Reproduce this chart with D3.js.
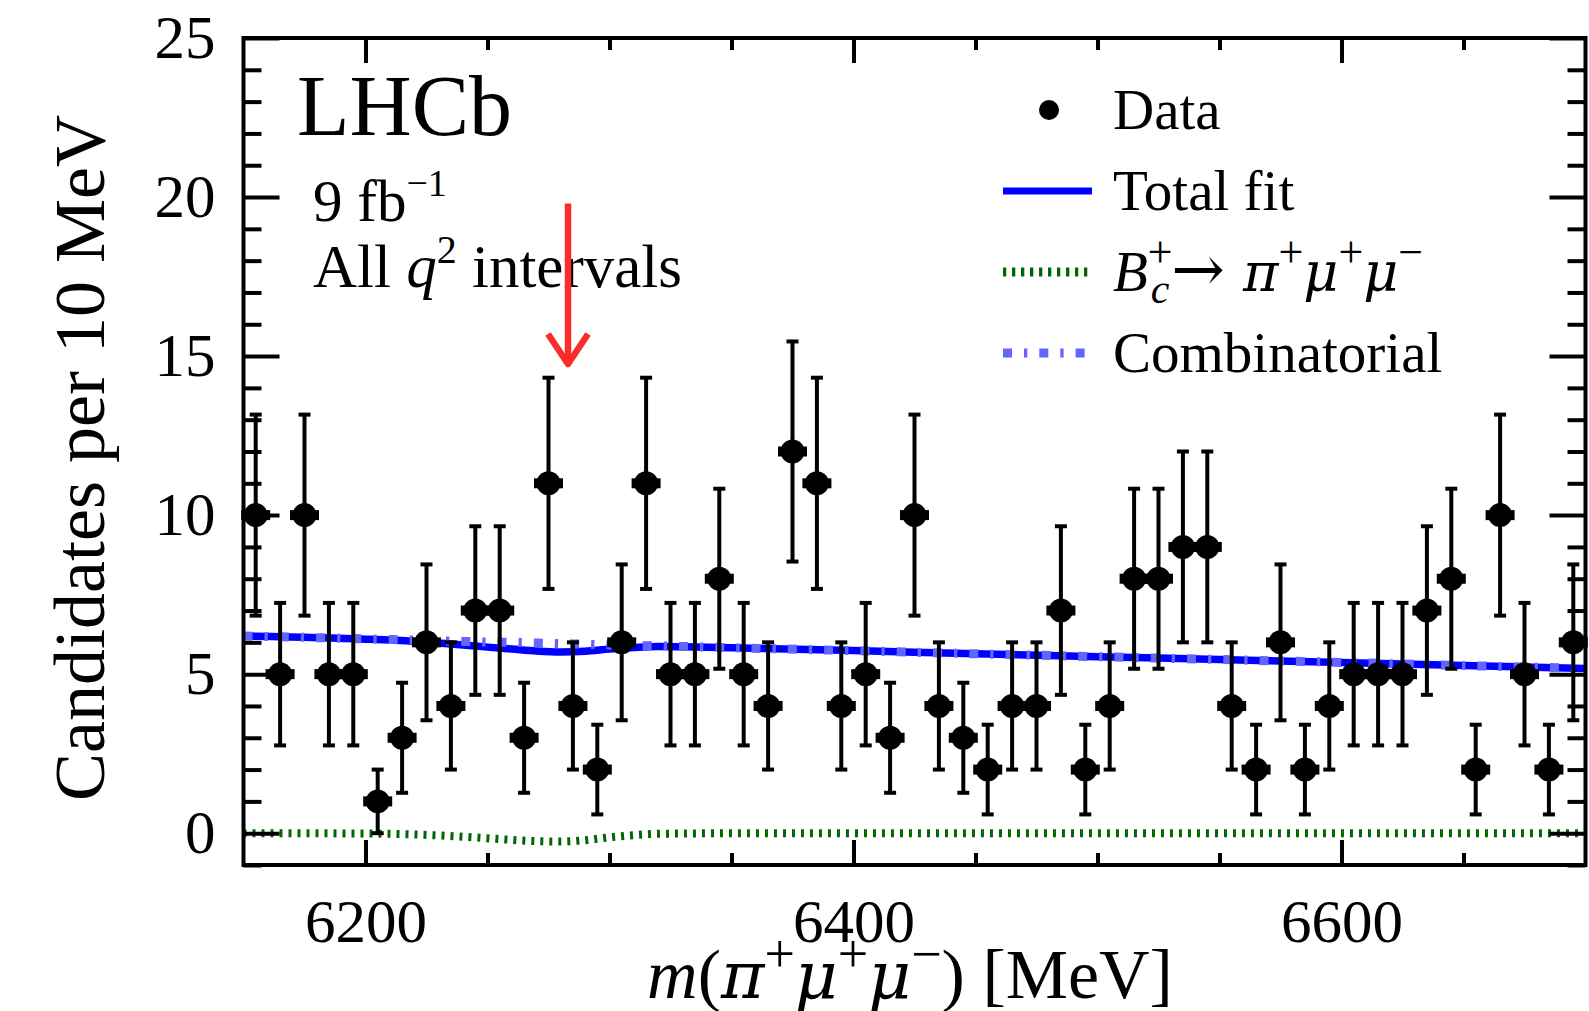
<!DOCTYPE html>
<html><head><meta charset="utf-8">
<script src="https://cdn.jsdelivr.net/npm/d3@7"></script>
<style>
html,body{margin:0;padding:0;background:#fff;}
svg{display:block;font-family:"Liberation Serif","Times New Roman",serif;}
</style></head>
<body><svg id="chart" width="1589" height="1011"></svg>
<script>
// ---------------- data ----------------
const massBins = [6155,6165,6175,6185,6195,6205,6215,6225,6235,6245,
                  6255,6265,6275,6285,6295,6305,6315,6325,6335,6345,
                  6355,6365,6375,6385,6395,6405,6415,6425,6435,6445,
                  6455,6465,6475,6485,6495,6505,6515,6525,6535,6545,
                  6555,6565,6575,6585,6595,6605,6615,6625,6635,6645,
                  6655,6665,6675,6685,6695];
const counts = [10,5,10,5,5,1,3,6,4,7,
                7,3,11,4,2,6,11,5,5,8,
                5,4,12,11,4,5,3,10,4,3,
                2,4,4,7,2,4,8,8,9,9,
                4,2,6,2,4,5,5,5,7,8,
                2,10,5,2,6];
const errors = [3.16,2.24,3.16,2.24,2.24,1.00,1.73,2.45,2.00,2.65,
                2.65,1.73,3.32,2.00,1.41,2.45,3.32,2.24,2.24,2.83,
                2.24,2.00,3.46,3.32,2.00,2.24,1.73,3.16,2.00,1.73,
                1.41,2.00,2.00,2.65,1.41,2.00,2.83,2.83,3.00,3.00,
                2.00,1.41,2.45,1.41,2.00,2.24,2.24,2.24,2.65,2.83,
                1.41,3.16,2.24,1.41,2.45];
const fitMass   = [6150,6200,6220,6230,6240,6250,6260,6270,6280,6290,6300,6310,6320,6330,6350,6400,6450,6500,6550,6600,6650,6700];
const combFit   = [6.20,6.11,6.07,6.05,6.03,6.01,6.00,5.98,5.96,5.94,5.92,5.90,5.89,5.87,5.83,5.74,5.64,5.55,5.46,5.37,5.27,5.18];
const signalFit = [0.00,-0.01,-0.04,-0.07,-0.11,-0.16,-0.21,-0.25,-0.26,-0.22,-0.13,-0.06,-0.02,-0.01,0.00,0.00,0.00,0.00,0.00,0.00,0.00,0.00];
const totalFit  = [6.20,6.10,6.03,5.98,5.92,5.85,5.79,5.73,5.70,5.72,5.79,5.84,5.87,5.86,5.83,5.74,5.64,5.55,5.46,5.37,5.27,5.18];
const yMajorTicks = [0,5,10,15,20,25];
const yMinorTicks = [-1,1,2,3,4,6,7,8,9,11,12,13,14,16,17,18,19,21,22,23,24];
const xMajorTicks = [6200,6400,6600];
const xMinorTicks = [6250,6300,6350,6450,6500,6550,6650];
const legendLabels = ["Data","Total fit","B→π+μ+μ−","Combinatorial"];
const arrowMass = 6283, arrowFrom = 19.8, arrowTo = 14.75;

// ---------------- layout ----------------
const svg = d3.select("#chart");
const L = 243.5, R = 1585.5, T = 38, B = 865;
const x = d3.scaleLinear().domain([6150, 6700]).range([L, R]);
const y = d3.scaleLinear().domain([-1, 25]).range([B, T]);
const FONT = '"Liberation Serif","Times New Roman",serif';
const GREEK = '"DejaVu Serif","Liberation Serif",serif';

// ---------------- curves ----------------
const fitRows = fitMass.map((m,i)=>({m, comb: combFit[i], sig: signalFit[i], tot: totalFit[i]}));
const line = key => d3.line().x(d=>x(d.m)).y(d=>y(d[key])).curve(d3.curveMonotoneX);

svg.append("path").datum(fitRows).attr("d", line("sig"))
  .attr("fill","none").attr("stroke","#006600").attr("stroke-width",8).attr("stroke-dasharray","3,6");
svg.append("path").datum(fitRows).attr("d", line("tot"))
  .attr("fill","none").attr("stroke","#0000ff").attr("stroke-width",7.5);
svg.append("path").datum(fitRows).attr("d", line("comb"))
  .attr("fill","none").attr("stroke","#6464ff").attr("stroke-width",9).attr("stroke-dasharray","9,12,3.3,12");

// ---------------- data points ----------------
const pts = massBins.map((m,i)=>({m, n: counts[i], e: errors[i]}));
const gData = svg.append("g");
const pt = gData.selectAll("g.pt").data(pts).join("g").attr("class","pt");
pt.append("line").attr("x1",d=>x(d.m)).attr("x2",d=>x(d.m))
  .attr("y1",d=>y(d.n+d.e)).attr("y2",d=>y(d.n-d.e)).attr("stroke","#000").attr("stroke-width",4);
pt.append("line").attr("x1",d=>x(d.m)-6).attr("x2",d=>x(d.m)+6)
  .attr("y1",d=>y(d.n+d.e)).attr("y2",d=>y(d.n+d.e)).attr("stroke","#000").attr("stroke-width",4);
pt.append("line").attr("x1",d=>x(d.m)-6).attr("x2",d=>x(d.m)+6)
  .attr("y1",d=>y(d.n-d.e)).attr("y2",d=>y(d.n-d.e)).attr("stroke","#000").attr("stroke-width",4);
pt.append("circle").attr("cx",d=>x(d.m)).attr("cy",d=>y(d.n)).attr("r",12).attr("fill","#000");
pt.append("rect").attr("x",d=>x(d.m)-14.5).attr("y",d=>y(d.n)-5).attr("width",29).attr("height",10).attr("fill","#000");

// ---------------- axes ----------------
function styleAxis(g, fs){
  g.select(".domain").remove();
  g.attr("color","#000").attr("font-family",FONT).attr("font-size",fs);
  g.selectAll(".tick line").attr("stroke-width",4);
}
svg.append("g").attr("transform",`translate(${L},0)`)
  .call(d3.axisLeft(y).tickValues(yMajorTicks).tickSizeInner(-36).tickSizeOuter(0).tickPadding(28).tickFormat(d3.format("d")))
  .call(g=>styleAxis(g,61));
svg.append("g").attr("transform",`translate(${L},0)`)
  .call(d3.axisLeft(y).tickValues(yMinorTicks).tickSizeInner(-18).tickSizeOuter(0).tickFormat(""))
  .call(g=>styleAxis(g,61));
svg.append("g").attr("transform",`translate(${R},0)`)
  .call(d3.axisRight(y).tickValues(yMajorTicks).tickSizeInner(-36).tickSizeOuter(0).tickFormat(""))
  .call(g=>styleAxis(g,61));
svg.append("g").attr("transform",`translate(${R},0)`)
  .call(d3.axisRight(y).tickValues(yMinorTicks).tickSizeInner(-18).tickSizeOuter(0).tickFormat(""))
  .call(g=>styleAxis(g,61));
svg.append("g").attr("transform",`translate(0,${B})`)
  .call(d3.axisBottom(x).tickValues(xMajorTicks).tickSizeInner(-25).tickSizeOuter(0).tickPadding(34).tickFormat(d3.format("d")))
  .call(g=>styleAxis(g,61));
svg.append("g").attr("transform",`translate(0,${B})`)
  .call(d3.axisBottom(x).tickValues(xMinorTicks).tickSizeInner(-12).tickSizeOuter(0).tickFormat(""))
  .call(g=>styleAxis(g,61));
svg.append("g").attr("transform",`translate(0,${T})`)
  .call(d3.axisTop(x).tickValues(xMajorTicks).tickSizeInner(-25).tickSizeOuter(0).tickFormat(""))
  .call(g=>styleAxis(g,61));
svg.append("g").attr("transform",`translate(0,${T})`)
  .call(d3.axisTop(x).tickValues(xMinorTicks).tickSizeInner(-12).tickSizeOuter(0).tickFormat(""))
  .call(g=>styleAxis(g,61));
svg.append("rect").attr("x",L).attr("y",T).attr("width",R-L).attr("height",B-T)
  .attr("fill","none").attr("stroke","#000").attr("stroke-width",4);

// ---------------- axis titles ----------------
svg.append("text").attr("transform","translate(104,458) rotate(-90)")
  .attr("text-anchor","middle").attr("font-size",72).text("Candidates per 10 MeV");

const xl = svg.append("text").attr("x",910).attr("y",998).attr("text-anchor","middle").attr("font-size",70);
xl.append("tspan").attr("font-style","italic").text("m");
xl.append("tspan").text("(");
xl.append("tspan").attr("font-style","italic").attr("font-family",GREEK).attr("font-size",66).text("π");
xl.append("tspan").attr("font-size",54).attr("dy",-26).text("+");
xl.append("tspan").attr("dy",26).attr("font-style","italic").attr("font-family",GREEK).attr("font-size",66).text("μ");
xl.append("tspan").attr("font-size",54).attr("dy",-26).text("+");
xl.append("tspan").attr("dy",26).attr("font-style","italic").attr("font-family",GREEK).attr("font-size",66).text("μ");
xl.append("tspan").attr("font-size",54).attr("dy",-26).text("−");
xl.append("tspan").attr("dy",26).text(") [MeV]");

// ---------------- annotations ----------------
svg.append("text").attr("x",297).attr("y",135).attr("font-size",86).text("LHCb");
const lumi = svg.append("text").attr("x",313).attr("y",221).attr("font-size",59);
lumi.append("tspan").text("9 fb");
lumi.append("tspan").attr("font-size",38).attr("dy",-25).text("−1");
const q2 = svg.append("text").attr("x",313).attr("y",287).attr("font-size",61);
q2.append("tspan").text("All ");
q2.append("tspan").attr("font-style","italic").text("q");
q2.append("tspan").attr("font-size",40).attr("dy",-24).text("2");
q2.append("tspan").attr("dy",24).text(" intervals");

// arrow
const ax = x(arrowMass), ay1 = y(arrowFrom), ay2 = y(arrowTo);
svg.append("line").attr("x1",ax).attr("x2",ax).attr("y1",ay1).attr("y2",ay2-3)
  .attr("stroke","#fa2d2d").attr("stroke-width",6.5);
svg.append("path").attr("d",`M${ax-20},${ay2-30}L${ax},${ay2}L${ax+20},${ay2-30}`)
  .attr("fill","none").attr("stroke","#fa2d2d").attr("stroke-width",6.5).attr("stroke-linejoin","round");

// ---------------- legend ----------------
const LX0 = 1003, LX1 = 1092, LT = 1113, rowY = i => 110 + i*81;
svg.append("circle").attr("cx",1049).attr("cy",rowY(0)).attr("r",10).attr("fill","#000");
svg.append("line").attr("x1",LX0).attr("x2",LX1).attr("y1",rowY(1)).attr("y2",rowY(1))
  .attr("stroke","#0000ff").attr("stroke-width",7);
svg.append("line").attr("x1",LX0).attr("x2",LX1-3).attr("y1",rowY(2)).attr("y2",rowY(2))
  .attr("stroke","#006600").attr("stroke-width",9).attr("stroke-dasharray","3.3,5.7");
svg.append("line").attr("x1",LX0).attr("x2",LX1-3).attr("y1",rowY(3)).attr("y2",rowY(3))
  .attr("stroke","#6464ff").attr("stroke-width",9).attr("stroke-dasharray","9,12,3.3,12");

const lfs = 57;
[0,1,3].forEach(i=>{
  svg.append("text").attr("x",LT).attr("y",rowY(i)+19).attr("font-size",lfs).text(legendLabels[i]);
});
const bb = rowY(2)+19;
const lb = svg.append("text").attr("x",LT).attr("y",bb).attr("font-size",lfs);
lb.append("tspan").attr("font-style","italic").text("B");
lb.append("tspan").attr("font-size",44).attr("y",bb-24).text("+");
lb.append("tspan").attr("font-size",42).attr("font-style","italic").attr("dx",-22).attr("y",bb+12).text("c");
lb.append("tspan").attr("y",bb).attr("dx",2).attr("font-family","DejaVu Serif").attr("font-size",64).text("→");
lb.append("tspan").attr("dx",18).attr("font-style","italic").attr("font-family",GREEK).attr("font-size",54).text("π");
lb.append("tspan").attr("font-size",44).attr("y",bb-24).text("+");
lb.append("tspan").attr("y",bb).attr("font-style","italic").attr("font-family",GREEK).attr("font-size",54).text("μ");
lb.append("tspan").attr("font-size",44).attr("y",bb-24).text("+");
lb.append("tspan").attr("y",bb).attr("font-style","italic").attr("font-family",GREEK).attr("font-size",54).text("μ");
lb.append("tspan").attr("font-size",44).attr("y",bb-24).text("−");
</script>
</body></html>
